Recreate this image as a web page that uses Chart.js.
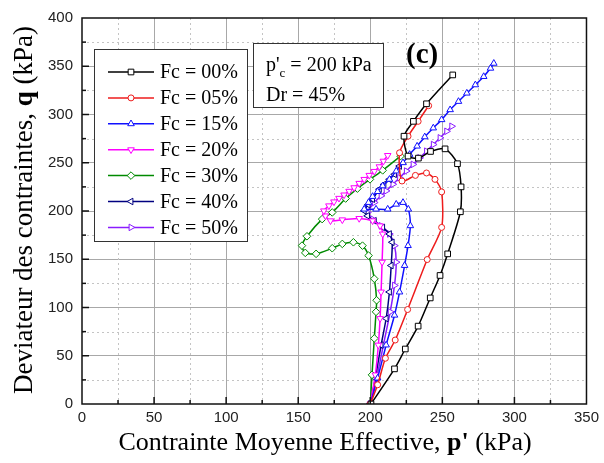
<!DOCTYPE html>
<html>
<head>
<meta charset="utf-8">
<script src="https://cdn.jsdelivr.net/npm/chart.js@4.4.0/dist/chart.umd.min.js"></script>
<style>
  html, body { margin: 0; padding: 0; background: #fff; }
</style>
</head>
<body>
<canvas id="chart" width="604" height="463"></canvas>
<script>
// Data (p' in kPa, q in kPa)
const p00 = [200.5, 216.8, 224.3, 233.2, 241.6, 248.4, 253.7, 262.5, 263.0, 260.5, 251.9, 241.8, 233.4, 226.2, 223.4, 229.9, 239.0, 257.2];
const q00 = [0, 36.4, 57.0, 80.7, 109.9, 133.2, 155.6, 199.2, 225.0, 249.0, 264.4, 261.7, 254.8, 256.9, 277.5, 292.9, 311.1, 341.0];

const p05 = [200.0, 205.1, 210.5, 217.3, 225.9, 239.5, 249.5, 249.5, 244.9, 239.0, 231.3, 222.0, 220.3, 226.2, 233.2, 240.5];
const q05 = [0, 19.9, 47.4, 66.3, 97.9, 149.7, 183.0, 219.8, 232.8, 239.4, 236.9, 231.1, 260.3, 277.5, 292.9, 309.1];

const p15 = [200.0, 205.1, 211.0, 216.8, 220.3, 223.8, 226.2, 227.8, 226.4, 222.7, 218.0, 212.1, 204.0, 195.8, 198.8, 201.6, 205.1, 208.6, 213.3, 218.0, 222.7, 227.3, 232.5, 237.8, 243.7, 249.5, 255.4, 261.2, 267.0, 272.9, 278.7, 283.4, 285.7];
const q15 = [0, 26.8, 61.1, 92.0, 116.0, 143.5, 164.1, 184.7, 201.9, 208.8, 207.0, 201.9, 201.9, 201.9, 208.8, 215.0, 220.1, 226.0, 232.8, 241.4, 250.0, 258.6, 267.2, 276.8, 286.0, 294.6, 304.9, 313.5, 322.1, 330.7, 339.3, 347.9, 353.0];

const p20 = [200.0, 203.5, 205.6, 206.8, 207.5, 208.2, 208.6, 206.8, 201.6, 192.3, 180.6, 172.4, 168.9, 167.8, 171.3, 174.8, 178.3, 181.8, 185.3, 188.8, 192.3, 195.8, 199.3, 202.8, 206.3, 209.1, 212.1];
const q20 = [0, 30.2, 61.1, 88.6, 116.1, 147.0, 176.2, 184.7, 189.9, 192.3, 190.9, 189.9, 195.0, 200.2, 205.4, 209.5, 213.2, 216.7, 220.5, 224.2, 228.7, 232.8, 237.0, 241.1, 245.9, 251.7, 257.6];

const p30 = [200.0, 201.2, 202.8, 204.0, 204.4, 202.8, 198.8, 194.6, 188.3, 180.6, 173.6, 162.4, 154.9, 152.6, 156.1, 166.6, 173.6, 182.9, 191.1, 199.8, 208.6, 221.0];
const q30 = [0, 30.2, 68.0, 95.5, 107.5, 129.8, 153.8, 164.1, 167.6, 165.9, 161.4, 155.6, 156.6, 164.1, 173.8, 191.6, 198.5, 212.9, 223.2, 232.8, 242.1, 256.9];

const p40 = [200.0, 203.5, 207.5, 211.0, 213.3, 214.5, 215.2, 213.3, 208.6, 202.8, 198.1, 195.8, 198.5, 201.6, 206.3, 209.5, 213.3, 216.8, 220.3];
const q40 = [0, 26.8, 61.1, 88.6, 116.1, 143.5, 167.6, 176.2, 183.0, 189.9, 195.0, 200.2, 206.5, 212.2, 222.5, 227.5, 232.8, 238.0, 246.6];

const p50 = [200.0, 204.4, 209.1, 213.8, 216.8, 218.0, 216.8, 213.3, 207.5, 201.6, 198.1, 202.8, 207.5, 211.0, 215.7, 220.3, 225.0, 229.7, 234.3, 239.0, 243.7, 248.4, 253.0, 256.5];
const q50 = [0, 26.8, 61.1, 95.5, 122.9, 147.0, 164.1, 176.2, 184.7, 191.6, 198.5, 208.8, 215.7, 220.8, 227.7, 234.5, 241.4, 248.3, 255.1, 262.0, 268.9, 275.8, 282.6, 287.8];

const seriesLabels = ['Fc = 00%', 'Fc = 05%', 'Fc = 15%', 'Fc = 20%', 'Fc = 30%', 'Fc = 40%', 'Fc = 50%'];
const seriesP = [p00, p05, p15, p20, p30, p40, p50];
const seriesQ = [q00, q05, q15, q20, q30, q40, q50];
const seriesColors = ['#000000', '#ee1c1c', '#1010ff', '#ff00ff', '#008a00', '#000080', '#8a1cff'];
const seriesStyles = ['rect', 'circle', 'triangle', 'triangle', 'rectRot', 'triangle', 'triangle'];
const seriesRotation = [0, 0, 0, 180, 0, -90, 90];
const seriesRadius = [4, 3, 3.8, 3.8, 3.8, 3.8, 3.8];

const xTicks = [0, 50, 100, 150, 200, 250, 300, 350];
const yTicks = [0, 50, 100, 150, 200, 250, 300, 350, 400];

const serif = '"Liberation Serif", "Times New Roman", serif';
const sans = '"Liberation Sans", Arial, sans-serif';

const datasets = seriesLabels.map((label, i) => ({
  label: label,
  data: seriesP[i].map((p, k) => ({ x: p, y: seriesQ[i][k] })),
  borderColor: seriesColors[i],
  backgroundColor: '#ffffff',
  borderWidth: 1.5,
  tension: 0.25,
  pointStyle: seriesStyles[i],
  rotation: seriesRotation[i],
  pointRadius: seriesRadius[i],
  pointBorderWidth: 1,
  pointBackgroundColor: '#ffffff',
  pointBorderColor: seriesColors[i]
}));

// minor dotted grid, inner ticks, frame, legend, note box and axis titles
const decorations = {
  id: 'decorations',
  beforeDatasetsDraw(chart) {
    const { ctx, chartArea: a, scales: { x, y } } = chart;
    ctx.save();
    ctx.strokeStyle = '#c4c4c4';
    ctx.lineWidth = 1;
    ctx.setLineDash([2, 3]);
    for (let v = 25; v < 350; v += 50) {
      const px = Math.round(x.getPixelForValue(v)) + 0.5;
      ctx.beginPath(); ctx.moveTo(px, a.top); ctx.lineTo(px, a.bottom); ctx.stroke();
    }
    for (let v = 25; v < 400; v += 50) {
      const py = Math.round(y.getPixelForValue(v)) + 0.5;
      ctx.beginPath(); ctx.moveTo(a.left, py); ctx.lineTo(a.right, py); ctx.stroke();
    }
    ctx.restore();
  },
  afterDatasetsDraw(chart) {
    const { ctx, chartArea: a, scales: { x, y } } = chart;
    ctx.save();
    // frame
    ctx.strokeStyle = '#111';
    ctx.lineWidth = 1.5;
    ctx.strokeRect(a.left, a.top, a.right - a.left, a.bottom - a.top);
    // inward ticks
    for (let v = 25; v < 350; v += 25) {
      const px = x.getPixelForValue(v);
      const len = v % 50 === 0 ? 7 : 4;
      ctx.beginPath(); ctx.moveTo(px, a.bottom); ctx.lineTo(px, a.bottom - len); ctx.stroke();
    }
    for (let v = 25; v < 400; v += 25) {
      const py = y.getPixelForValue(v);
      const len = v % 50 === 0 ? 7 : 4;
      ctx.beginPath(); ctx.moveTo(a.left, py); ctx.lineTo(a.left + len, py); ctx.stroke();
    }

    // legend
    ctx.fillStyle = '#fff';
    ctx.fillRect(94, 49, 153, 192);
    ctx.strokeStyle = '#333';
    ctx.lineWidth = 1;
    ctx.strokeRect(94.5, 49.5, 153, 192);
    chart.data.datasets.forEach((ds, i) => {
      const ry = 72 + i * 25.9;
      ctx.strokeStyle = ds.borderColor;
      ctx.lineWidth = 1.5;
      ctx.beginPath(); ctx.moveTo(108, ry); ctx.lineTo(154, ry); ctx.stroke();
      ctx.fillStyle = '#fff';
      ctx.lineWidth = 1;
      Chart.helpers.drawPoint(ctx, {
        pointStyle: ds.pointStyle, rotation: ds.rotation,
        radius: ds.pointRadius, borderWidth: 1
      }, 131, ry);
      ctx.fillStyle = '#000';
      ctx.font = '20px ' + serif;
      ctx.textBaseline = 'middle';
      ctx.textAlign = 'left';
      ctx.fillText(ds.label, 160, ry + 1);
    });

    // note box
    ctx.fillStyle = '#fff';
    ctx.fillRect(253, 43, 130, 64);
    ctx.strokeStyle = '#333';
    ctx.lineWidth = 1;
    ctx.strokeRect(253.5, 43.5, 130, 64);
    ctx.fillStyle = '#000';
    ctx.textBaseline = 'alphabetic';
    ctx.font = '20px ' + serif;
    let tx = 266;
    ctx.fillText("p'", tx, 71);
    tx += ctx.measureText("p'").width;
    ctx.font = '13px ' + serif;
    ctx.fillText('c', tx, 77);
    tx += ctx.measureText('c').width;
    ctx.font = '20px ' + serif;
    ctx.fillText(' = 200 kPa', tx, 71);
    ctx.fillText('Dr = 45%', 266, 101);

    // panel tag
    ctx.font = 'bold 29px ' + serif;
    ctx.fillText('(c)', 406, 63);

    // axis titles with bold symbols
    const drawMixed = (parts, cx, cy, size) => {
      let total = 0;
      parts.forEach(pt => { ctx.font = (pt[1] ? 'bold ' : '') + size + 'px ' + serif; total += ctx.measureText(pt[0]).width; });
      let sx = cx - total / 2;
      ctx.textBaseline = 'middle';
      parts.forEach(pt => {
        ctx.font = (pt[1] ? 'bold ' : '') + size + 'px ' + serif;
        ctx.fillText(pt[0], sx, cy);
        sx += ctx.measureText(pt[0]).width;
      });
    };
    ctx.fillStyle = '#000';
    drawMixed([['Contrainte Moyenne Effective, ', false], ["p'", true], [' (kPa)', false]], 325, 443, 26);
    ctx.save();
    ctx.translate(25, 210);
    ctx.rotate(-Math.PI / 2);
    drawMixed([['Deviateur des contraintes, ', false], ['q', true], [' (kPa)', false]], 0, 0, 27);
    ctx.restore();
    ctx.restore();
  }
};

new Chart(document.getElementById('chart'), {
  type: 'line',
  data: { datasets: datasets },
  options: {
    responsive: false,
    animation: false,
    layout: { padding: { left: 0, right: 15, top: 18, bottom: 0 } },
    plugins: {
      legend: { display: false },
      tooltip: { enabled: false }
    },
    scales: {
      x: {
        type: 'linear',
        min: 0,
        max: 350,
        afterFit: s => { s.height = 59; },
        afterBuildTicks: s => { s.ticks = xTicks.map(v => ({ value: v })); },
        ticks: { color: '#222', font: { family: sans, size: 15 }, padding: 5, autoSkip: false, maxRotation: 0 },
        grid: {
          drawTicks: false,
          color: c => (c.tick && c.tick.value > 0 && c.tick.value < 350) ? '#a8a8a8' : 'rgba(0,0,0,0)',
          lineWidth: 1
        },
        border: { display: false }
      },
      y: {
        type: 'linear',
        min: 0,
        max: 400,
        afterFit: s => { s.width = 82; },
        afterBuildTicks: s => { s.ticks = yTicks.map(v => ({ value: v })); },
        ticks: { color: '#222', font: { family: sans, size: 15 }, padding: 9, autoSkip: false },
        grid: {
          drawTicks: false,
          color: c => (c.tick && c.tick.value > 0 && c.tick.value < 400) ? '#a8a8a8' : 'rgba(0,0,0,0)',
          lineWidth: 1
        },
        border: { display: false }
      }
    }
  },
  plugins: [decorations]
});
</script>
</body>
</html>
